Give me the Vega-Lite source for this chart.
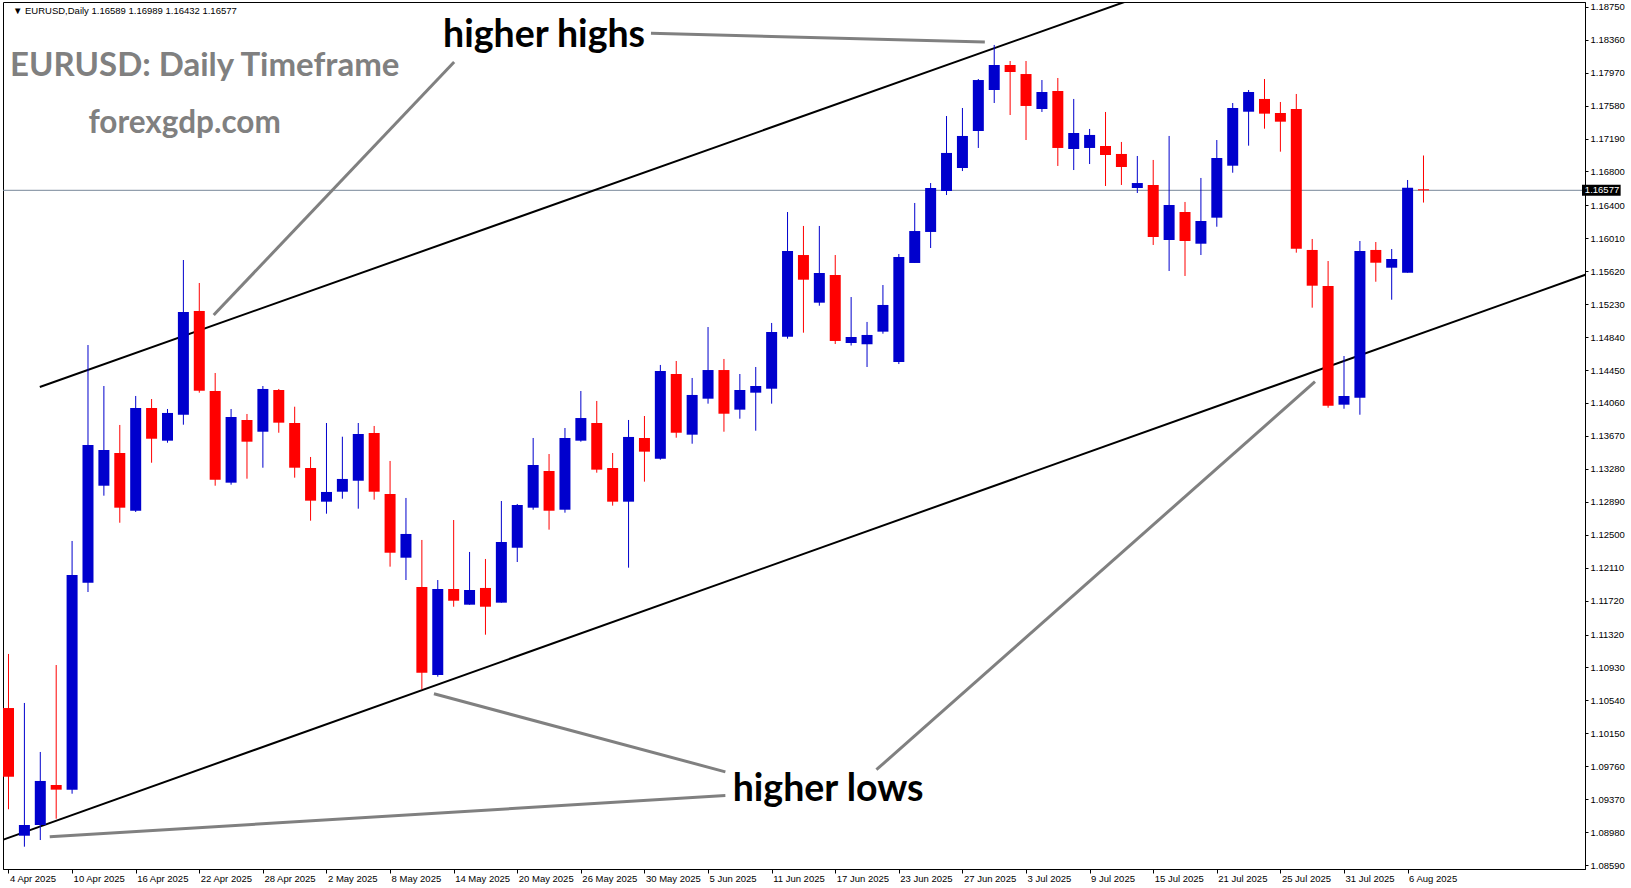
{
  "$schema": "https://vega.github.io/schema/vega-lite/v6.json",
  "autosize": {"type": "none"},
  "width": 1582,
  "height": 867,
  "padding": {"left": 3, "top": 2, "right": 46, "bottom": 19},
  "background": "#ffffff",
  "config": {
    "view": {"stroke": "#000000", "strokeWidth": 1},
    "axis": {"grid": false, "labelFont": "Liberation Sans", "labelFontSize": 9.5, "labelColor": "#000000", "tickColor": "#000000", "domainColor": "#000000"}
  },
  "datasets": {
    "bars": [
      {"i":0,"d":"2025-04-04","o":1.10450,"h":1.11090,"l":1.09252,"c":1.09637},
      {"i":1,"d":"2025-04-07","o":1.08939,"h":1.10510,"l":1.08809,"c":1.09066},
      {"i":2,"d":"2025-04-08","o":1.09066,"h":1.09930,"l":1.08888,"c":1.09587},
      {"i":3,"d":"2025-04-09","o":1.09539,"h":1.10959,"l":1.09140,"c":1.09484},
      {"i":4,"d":"2025-04-10","o":1.09484,"h":1.12427,"l":1.09436,"c":1.12024},
      {"i":5,"d":"2025-04-11","o":1.11933,"h":1.14746,"l":1.11823,"c":1.13563},
      {"i":6,"d":"2025-04-14","o":1.13081,"h":1.14261,"l":1.12963,"c":1.13504},
      {"i":7,"d":"2025-04-15","o":1.13468,"h":1.13800,"l":1.12643,"c":1.12821},
      {"i":8,"d":"2025-04-16","o":1.12785,"h":1.14143,"l":1.12770,"c":1.14001},
      {"i":9,"d":"2025-04-17","o":1.14001,"h":1.14107,"l":1.13353,"c":1.13637},
      {"i":10,"d":"2025-04-18","o":1.13614,"h":1.13989,"l":1.13590,"c":1.13942},
      {"i":11,"d":"2025-04-21","o":1.13921,"h":1.15752,"l":1.13803,"c":1.15137},
      {"i":12,"d":"2025-04-22","o":1.15149,"h":1.15480,"l":1.14182,"c":1.14205},
      {"i":13,"d":"2025-04-23","o":1.14202,"h":1.14415,"l":1.13081,"c":1.13152},
      {"i":14,"d":"2025-04-24","o":1.13117,"h":1.13989,"l":1.13093,"c":1.13894},
      {"i":15,"d":"2025-04-25","o":1.13859,"h":1.13930,"l":1.13164,"c":1.13602},
      {"i":16,"d":"2025-04-28","o":1.13720,"h":1.14261,"l":1.13294,"c":1.14226},
      {"i":17,"d":"2025-04-29","o":1.14214,"h":1.14226,"l":1.13708,"c":1.13827},
      {"i":18,"d":"2025-04-30","o":1.13823,"h":1.14016,"l":1.13176,"c":1.13294},
      {"i":19,"d":"2025-05-01","o":1.13291,"h":1.13421,"l":1.12667,"c":1.12904},
      {"i":20,"d":"2025-05-02","o":1.12892,"h":1.13823,"l":1.12750,"c":1.13007},
      {"i":21,"d":"2025-05-05","o":1.13010,"h":1.13661,"l":1.12927,"c":1.13161},
      {"i":22,"d":"2025-05-06","o":1.13140,"h":1.13823,"l":1.12809,"c":1.13693},
      {"i":23,"d":"2025-05-07","o":1.13705,"h":1.13788,"l":1.12916,"c":1.13010},
      {"i":24,"d":"2025-05-08","o":1.12983,"h":1.13374,"l":1.12123,"c":1.12288},
      {"i":25,"d":"2025-05-09","o":1.12229,"h":1.12936,"l":1.11965,"c":1.12510},
      {"i":26,"d":"2025-05-12","o":1.11882,"h":1.12439,"l":1.10672,"c":1.10868},
      {"i":27,"d":"2025-05-13","o":1.10841,"h":1.11965,"l":1.10821,"c":1.11859},
      {"i":28,"d":"2025-05-14","o":1.11859,"h":1.12675,"l":1.11649,"c":1.11720},
      {"i":29,"d":"2025-05-15","o":1.11673,"h":1.12297,"l":1.11673,"c":1.11847},
      {"i":30,"d":"2025-05-16","o":1.11871,"h":1.12214,"l":1.11318,"c":1.11649},
      {"i":31,"d":"2025-05-19","o":1.11697,"h":1.12900,"l":1.11697,"c":1.12415},
      {"i":32,"d":"2025-05-20","o":1.12347,"h":1.12865,"l":1.12178,"c":1.12853},
      {"i":33,"d":"2025-05-21","o":1.12821,"h":1.13646,"l":1.12797,"c":1.13326},
      {"i":34,"d":"2025-05-22","o":1.13255,"h":1.13456,"l":1.12561,"c":1.12785},
      {"i":35,"d":"2025-05-23","o":1.12797,"h":1.13764,"l":1.12762,"c":1.13646},
      {"i":36,"d":"2025-05-26","o":1.13614,"h":1.14202,"l":1.13602,"c":1.13882},
      {"i":37,"d":"2025-05-27","o":1.13823,"h":1.14084,"l":1.13235,"c":1.13271},
      {"i":38,"d":"2025-05-28","o":1.13291,"h":1.13468,"l":1.12845,"c":1.12892},
      {"i":39,"d":"2025-05-29","o":1.12892,"h":1.13859,"l":1.12111,"c":1.13658},
      {"i":40,"d":"2025-05-30","o":1.13646,"h":1.13906,"l":1.13129,"c":1.13484},
      {"i":41,"d":"2025-06-02","o":1.13401,"h":1.14510,"l":1.13389,"c":1.14439},
      {"i":42,"d":"2025-06-03","o":1.14403,"h":1.14557,"l":1.13649,"c":1.13708},
      {"i":43,"d":"2025-06-04","o":1.13685,"h":1.14356,"l":1.13578,"c":1.14155},
      {"i":44,"d":"2025-06-05","o":1.14111,"h":1.14959,"l":1.14052,"c":1.14450},
      {"i":45,"d":"2025-06-06","o":1.14450,"h":1.14581,"l":1.13720,"c":1.13933},
      {"i":46,"d":"2025-06-09","o":1.13981,"h":1.14403,"l":1.13874,"c":1.14214},
      {"i":47,"d":"2025-06-10","o":1.14182,"h":1.14486,"l":1.13732,"c":1.14261},
      {"i":48,"d":"2025-06-11","o":1.14229,"h":1.15007,"l":1.14052,"c":1.14900},
      {"i":49,"d":"2025-06-12","o":1.14845,"h":1.16320,"l":1.14821,"c":1.15859},
      {"i":50,"d":"2025-06-13","o":1.15811,"h":1.16155,"l":1.14892,"c":1.15519},
      {"i":51,"d":"2025-06-16","o":1.15247,"h":1.16155,"l":1.15211,"c":1.15598},
      {"i":52,"d":"2025-06-17","o":1.15575,"h":1.15811,"l":1.14758,"c":1.14794},
      {"i":53,"d":"2025-06-18","o":1.14770,"h":1.15314,"l":1.14740,"c":1.14841},
      {"i":54,"d":"2025-06-19","o":1.14755,"h":1.15019,"l":1.14486,"c":1.14865},
      {"i":55,"d":"2025-06-20","o":1.14904,"h":1.15456,"l":1.14880,"c":1.15220},
      {"i":56,"d":"2025-06-23","o":1.14545,"h":1.15823,"l":1.14521,"c":1.15788},
      {"i":57,"d":"2025-06-24","o":1.15717,"h":1.16427,"l":1.15717,"c":1.16095},
      {"i":58,"d":"2025-06-25","o":1.16084,"h":1.16663,"l":1.15894,"c":1.16604},
      {"i":59,"d":"2025-06-26","o":1.16569,"h":1.17456,"l":1.16521,"c":1.17019},
      {"i":60,"d":"2025-06-27","o":1.16841,"h":1.17551,"l":1.16805,"c":1.17220},
      {"i":61,"d":"2025-06-30","o":1.17279,"h":1.17894,"l":1.17078,"c":1.17882},
      {"i":62,"d":"2025-07-01","o":1.17764,"h":1.18297,"l":1.17610,"c":1.18060},
      {"i":63,"d":"2025-07-02","o":1.18060,"h":1.18107,"l":1.17468,"c":1.17977},
      {"i":64,"d":"2025-07-03","o":1.17953,"h":1.18107,"l":1.17172,"c":1.17575},
      {"i":65,"d":"2025-07-04","o":1.17539,"h":1.17882,"l":1.17504,"c":1.17740},
      {"i":66,"d":"2025-07-07","o":1.17752,"h":1.17906,"l":1.16865,"c":1.17078},
      {"i":67,"d":"2025-07-08","o":1.17066,"h":1.17658,"l":1.16817,"c":1.17255},
      {"i":68,"d":"2025-07-09","o":1.17078,"h":1.17303,"l":1.16888,"c":1.17232},
      {"i":69,"d":"2025-07-10","o":1.17101,"h":1.17504,"l":1.16628,"c":1.16995},
      {"i":70,"d":"2025-07-11","o":1.17007,"h":1.17149,"l":1.16640,"c":1.16853},
      {"i":71,"d":"2025-07-14","o":1.16604,"h":1.16983,"l":1.16545,"c":1.16663},
      {"i":72,"d":"2025-07-15","o":1.16640,"h":1.16936,"l":1.15930,"c":1.16024},
      {"i":73,"d":"2025-07-16","o":1.15989,"h":1.17220,"l":1.15622,"c":1.16403},
      {"i":74,"d":"2025-07-17","o":1.16320,"h":1.16439,"l":1.15563,"c":1.15977},
      {"i":75,"d":"2025-07-18","o":1.15945,"h":1.16723,"l":1.15811,"c":1.16214},
      {"i":76,"d":"2025-07-21","o":1.16253,"h":1.17172,"l":1.16146,"c":1.16959},
      {"i":77,"d":"2025-07-22","o":1.16868,"h":1.17610,"l":1.16785,"c":1.17551},
      {"i":78,"d":"2025-07-23","o":1.17507,"h":1.17764,"l":1.17105,"c":1.17740},
      {"i":79,"d":"2025-07-24","o":1.17658,"h":1.17894,"l":1.17306,"c":1.17484},
      {"i":80,"d":"2025-07-25","o":1.17492,"h":1.17622,"l":1.17034,"c":1.17389},
      {"i":81,"d":"2025-07-28","o":1.17539,"h":1.17717,"l":1.15839,"c":1.15886},
      {"i":82,"d":"2025-07-29","o":1.15871,"h":1.16001,"l":1.15188,"c":1.15448},
      {"i":83,"d":"2025-07-30","o":1.15445,"h":1.15740,"l":1.14004,"c":1.14028},
      {"i":84,"d":"2025-07-31","o":1.14040,"h":1.14616,"l":1.13992,"c":1.14143},
      {"i":85,"d":"2025-08-01","o":1.14123,"h":1.15977,"l":1.13921,"c":1.15859},
      {"i":86,"d":"2025-08-04","o":1.15871,"h":1.15965,"l":1.15495,"c":1.15720},
      {"i":87,"d":"2025-08-05","o":1.15661,"h":1.15882,"l":1.15282,"c":1.15764},
      {"i":88,"d":"2025-08-06","o":1.15602,"h":1.16699,"l":1.15602,"c":1.16608},
      {"i":89,"d":"2025-08-07","o":1.16589,"h":1.16989,"l":1.16432,"c":1.16577}
    ],
    "channel": [
      {"i1":1.969,"p1":1.14249,"i2":72,"p2":1.18926},
      {"i1":-1,"p1":1.08848,"i2":100,"p2":1.15632}
    ],
    "pointers": [
      {"i1":12.906,"p1":1.15101,"i2":28.03,"p2":1.18095},
      {"i1":40.41,"p1":1.18435,"i2":61.41,"p2":1.18332},
      {"i1":26.76,"p1":1.10619,"i2":45.09,"p2":1.09695},
      {"i1":2.594,"p1":1.08927,"i2":45.09,"p2":1.09414},
      {"i1":54.59,"p1":1.09720,"i2":82.175,"p2":1.14312}
    ],
    "callouts": [
      {"t":"higher highs","i":27.33,"p":1.18273},
      {"t":"higher lows","i":45.55,"p":1.09350}
    ],
    "brand": [
      {"t":"EURUSD: Daily Timeframe","i":0.1,"p":1.17930},
      {"t":"forexgdp.com","i":5.03,"p":1.17259}
    ],
    "header": [
      {"t":"▼ EURUSD,Daily  1.16589 1.16989 1.16432 1.16577","i":0.28,"p":1.18663}
    ]
  },
  "data": {"name": "bars"},
  "encoding": {
    "x": {"field": "i", "type": "quantitative",
      "scale": {"domain": [-0.03125, 98.84375], "nice": false, "zero": false},
      "axis": {"title": null, "orient": "bottom",
        "values": [0,4,8,12,16,20,24,28,32,36,40,44,48,52,56,60,64,68,72,76,80,84,88],
        "labelExpr": "['4 Apr 2025','10 Apr 2025','16 Apr 2025','22 Apr 2025','28 Apr 2025','2 May 2025','8 May 2025','14 May 2025','20 May 2025','26 May 2025','30 May 2025','5 Jun 2025','11 Jun 2025','17 Jun 2025','23 Jun 2025','27 Jun 2025','3 Jul 2025','9 Jul 2025','15 Jul 2025','21 Jul 2025','25 Jul 2025','31 Jul 2025','6 Aug 2025'][round(datum.value/4)]",
        "labelAlign": "left", "labelBaseline": "top", "labelPadding": 0, "labelOffset": 1, "tickSize": 4,
        "labelOverlap": false, "labelFlush": false, "labelBound": false}},
    "y": {"type": "quantitative",
      "scale": {"domain": [1.085451, 1.188054], "nice": false, "zero": false},
      "axis": {"title": null, "orient": "right",
        "values": [1.1875,1.1836,1.1797,1.1758,1.1719,1.168,1.164,1.1601,1.1562,1.1523,1.1484,1.1445,1.1406,1.1367,1.1328,1.1289,1.125,1.1211,1.1172,1.1132,1.1093,1.1054,1.1015,1.0976,1.0937,1.0898,1.0859],
        "format": ".5f", "tickSize": 3, "labelPadding": 2, "labelOverlap": false, "labelFlush": false, "labelBound": false}}
  },
  "layer": [
    {
      "transform": [{"filter": "datum.i == 89"}],
      "mark": {"type": "rule", "color": "#778899", "strokeWidth": 1},
      "encoding": {"y": {"field": "c"}, "x": null}
    },
    {
      "data": {"name": "channel"},
      "mark": {"type": "rule", "color": "#000000", "strokeWidth": 2, "clip": true},
      "encoding": {"x": {"field": "i1"}, "y": {"field": "p1"}, "x2": {"field": "i2"}, "y2": {"field": "p2"}}
    },
    {
      "data": {"name": "pointers"},
      "mark": {"type": "rule", "color": "#808080", "strokeWidth": 3, "clip": true},
      "encoding": {"x": {"field": "i1"}, "y": {"field": "p1"}, "x2": {"field": "i2"}, "y2": {"field": "p2"}}
    },
    {
      "mark": {"type": "rule", "strokeWidth": 1, "clip": true},
      "encoding": {
        "y": {"field": "l"}, "y2": {"field": "h"},
        "color": {"condition": {"test": "datum.c >= datum.o", "value": "#0000CD"}, "value": "#FF0000"}
      }
    },
    {
      "mark": {"type": "bar", "size": 11, "clip": true},
      "encoding": {
        "y": {"field": "o"}, "y2": {"field": "c"},
        "color": {"condition": {"test": "datum.c >= datum.o", "value": "#0000CD"}, "value": "#FF0000"}
      }
    },
    {
      "data": {"name": "callouts"},
      "mark": {"type": "text", "font": "Lato", "fontWeight": "bold", "fontSize": 37.5, "color": "#000000", "align": "left", "baseline": "alphabetic"},
      "encoding": {"x": {"field": "i"}, "y": {"field": "p"}, "text": {"field": "t"}}
    },
    {
      "data": {"name": "brand"},
      "transform": [{"filter": "datum.t == 'EURUSD: Daily Timeframe'"}],
      "mark": {"type": "text", "font": "Lato", "fontWeight": "bold", "fontSize": 33, "color": "#808080", "align": "left", "baseline": "alphabetic"},
      "encoding": {"x": {"field": "i"}, "y": {"field": "p"}, "text": {"field": "t"}}
    },
    {
      "data": {"name": "brand"},
      "transform": [{"filter": "datum.t == 'forexgdp.com'"}],
      "mark": {"type": "text", "font": "Lato", "fontWeight": "bold", "fontSize": 31.5, "color": "#808080", "align": "left", "baseline": "alphabetic"},
      "encoding": {"x": {"field": "i"}, "y": {"field": "p"}, "text": {"field": "t"}}
    },
    {
      "data": {"name": "header"},
      "mark": {"type": "text", "font": "Liberation Sans", "fontSize": 9.5, "color": "#000000", "align": "left", "baseline": "alphabetic"},
      "encoding": {"x": {"field": "i"}, "y": {"field": "p"}, "text": {"field": "t"}}
    },
    {
      "transform": [{"filter": "datum.i == 89"}],
      "mark": {"type": "rule", "color": "#000000", "strokeWidth": 11, "clip": false},
      "encoding": {"x": {"datum": 98.97}, "x2": {"datum": 101.4}, "y": {"field": "c"}}
    },
    {
      "transform": [{"filter": "datum.i == 89"}],
      "mark": {"type": "text", "font": "Liberation Sans", "fontSize": 9.5, "color": "#ffffff", "align": "left", "baseline": "middle", "clip": false},
      "encoding": {"x": {"datum": 99.15}, "y": {"field": "c"}, "text": {"field": "c", "format": ".5f"}}
    }
  ]
}
